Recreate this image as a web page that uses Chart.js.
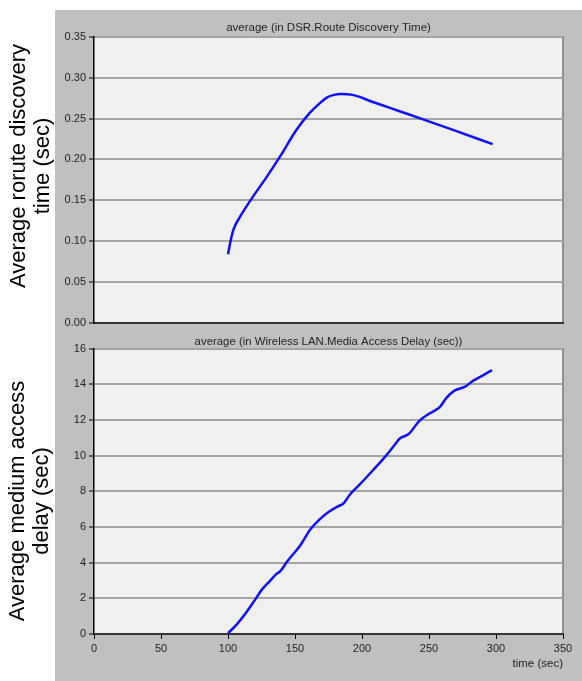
<!DOCTYPE html>
<html>
<head>
<meta charset="utf-8">
<script src="https://cdn.jsdelivr.net/npm/chart.js@4.4.1/dist/chart.umd.min.js"></script>
<style>
  html, body { margin: 0; padding: 0; background: #ffffff; }
  #wrap { position: relative; width: 582px; height: 681px; overflow: hidden; }
  canvas { position: absolute; left: 0; }
  #routeChart { top: 0; }
  #delayChart { top: 335px; }
</style>
</head>
<body>
<div id="wrap">
  <canvas id="routeChart" width="582" height="335"></canvas>
  <canvas id="delayChart" width="582" height="346"></canvas>
</div>
<script>
// Simulation time (sec) and DSR route discovery time average (sec)
const discoveryTimes  = [100, 102, 104, 109, 118, 129, 139, 151, 161, 168, 174, 179, 184, 193, 200, 206, 213, 228, 243, 270, 297.5];
const discoveryValues = [0.084, 0.101, 0.114, 0.130, 0.153, 0.179, 0.204, 0.236, 0.257, 0.268, 0.276, 0.279, 0.280, 0.279, 0.2755, 0.2715, 0.2675, 0.259, 0.2505, 0.235, 0.2187];

// Simulation time (sec) and Wireless LAN media access delay average (sec)
const delayTimes  = [100, 105, 114, 120, 125, 131, 136, 139, 144, 154, 161, 169, 175, 182, 186, 191, 198, 208, 217, 225, 228, 235, 243, 250, 258, 263, 269, 277, 283, 290, 297];
const delayValues = [0.05, 0.41, 1.25, 1.90, 2.46, 2.95, 3.36, 3.52, 4.05, 4.98, 5.82, 6.47, 6.84, 7.16, 7.31, 7.82, 8.36, 9.17, 9.92, 10.67, 10.95, 11.23, 11.97, 12.35, 12.72, 13.24, 13.65, 13.87, 14.21, 14.49, 14.80];

// Tick labels
const timeTicks      = [0, 50, 100, 150, 200, 250, 300, 350];
const discoveryTicks = [0, 0.05, 0.10, 0.15, 0.20, 0.25, 0.30, 0.35];
const delayTicks     = [0, 2, 4, 6, 8, 10, 12, 14, 16];

const FONT = "'Liberation Sans', Arial, Helvetica, sans-serif";
const TICK_COLOR = '#222222';

// Grey panel behind both plots, light plot background and its outline
const panelPlugin = {
  id: 'panel',
  beforeDraw(chart, args, opts) {
    const { ctx, chartArea: a, width, height } = chart;
    ctx.save();
    ctx.fillStyle = '#c0c0c0';
    ctx.fillRect(opts.left, opts.top, width - opts.left, height - opts.top);
    ctx.fillStyle = '#f0f0f0';
    ctx.fillRect(a.left, a.top, a.right - a.left, a.bottom - a.top);
    ctx.strokeStyle = '#7a7a7a';
    ctx.lineWidth = 1.5;
    ctx.beginPath();
    ctx.moveTo(a.left, a.top);
    ctx.lineTo(a.right, a.top);
    ctx.lineTo(a.right, a.bottom);
    ctx.stroke();
    ctx.restore();
  }
};

// Rotated multi-line quantity label to the left of the panel
const sideLabelPlugin = {
  id: 'sideLabel',
  afterDraw(chart, args, opts) {
    const { ctx } = chart;
    ctx.save();
    ctx.font = opts.size + 'px ' + FONT;
    ctx.fillStyle = '#000000';
    ctx.textAlign = 'center';
    ctx.textBaseline = 'middle';
    opts.lines.forEach((line, i) => {
      ctx.save();
      ctx.translate(opts.x + i * opts.lineGap, opts.y);
      ctx.rotate(-Math.PI / 2);
      ctx.fillText(line, 0, 0);
      ctx.restore();
    });
    ctx.restore();
  }
};

function setTicks(values) {
  return scale => { scale.ticks = values.map(v => ({ value: v })); };
}

function seriesPoints(xs, ys) {
  return xs.map((x, i) => ({ x: x, y: ys[i] }));
}

function lineDataset(points) {
  return {
    data: points,
    borderColor: '#1010ff',
    borderWidth: 2.5,
    pointRadius: 0,
    fill: false,
    cubicInterpolationMode: 'monotone'
  };
}

function titleOptions(text, size, bottomPad) {
  return {
    display: true,
    text: text,
    fullSize: false,
    color: TICK_COLOR,
    font: { family: FONT, size: size, weight: 'normal', lineHeight: 1.2 },
    padding: { top: 0, bottom: bottomPad }
  };
}

// Upper plot: route discovery time
new Chart(document.getElementById('routeChart'), {
  type: 'line',
  data: { datasets: [lineDataset(seriesPoints(discoveryTimes, discoveryValues))] },
  options: {
    responsive: false,
    animation: false,
    devicePixelRatio: 1,
    layout: { padding: { left: 0, right: 19, top: 21, bottom: 0 } },
    plugins: {
      legend: { display: false },
      tooltip: { enabled: false },
      title: titleOptions('average (in DSR.Route Discovery Time)', 11.5, 2),
      panel: { left: 55, top: 10 },
      sideLabel: { lines: ['Average rorute discovery', 'time (sec)'], x: 19, y: 166, lineGap: 24, size: 22 }
    },
    scales: {
      x: {
        type: 'linear', min: 0, max: 350,
        afterBuildTicks: setTicks(timeTicks),
        afterFit: s => { s.height = 12; },
        ticks: { display: false },
        grid: { display: false },
        border: { display: true, color: '#333333', width: 2 }
      },
      y: {
        type: 'linear', min: 0, max: 0.35,
        afterBuildTicks: setTicks(discoveryTicks),
        afterFit: s => { s.width = 94; },
        ticks: {
          color: TICK_COLOR, padding: 3,
          font: { family: FONT, size: 11 },
          callback: v => v.toFixed(2)
        },
        grid: { color: '#a4a4a4', lineWidth: 2, tickLength: 5, tickColor: '#000000', tickWidth: 1 },
        border: { display: true, color: '#000000', width: 1.5 }
      }
    }
  },
  plugins: [panelPlugin, sideLabelPlugin]
});

// Lower plot: media access delay
new Chart(document.getElementById('delayChart'), {
  type: 'line',
  data: { datasets: [lineDataset(seriesPoints(delayTimes, delayValues))] },
  options: {
    responsive: false,
    animation: false,
    devicePixelRatio: 1,
    layout: { padding: { left: 0, right: 19, top: 0, bottom: 0 } },
    plugins: {
      legend: { display: false },
      tooltip: { enabled: false },
      title: titleOptions('average (in Wireless LAN.Media Access Delay (sec))', 11.4, 0),
      panel: { left: 55, top: 0 },
      sideLabel: { lines: ['Average medium access', 'delay (sec)'], x: 18, y: 166, lineGap: 24, size: 22 }
    },
    scales: {
      x: {
        type: 'linear', min: 0, max: 350,
        afterBuildTicks: setTicks(timeTicks),
        afterFit: s => { s.height = 47; },
        ticks: { color: TICK_COLOR, padding: 3, font: { family: FONT, size: 11 } },
        grid: { drawOnChartArea: false, drawTicks: true, tickLength: 5, tickColor: '#000000', tickWidth: 1 },
        border: { display: true, color: '#333333', width: 2 },
        title: {
          display: true, text: 'time (sec)', align: 'end',
          color: TICK_COLOR, font: { family: FONT, size: 11.5 },
          padding: { top: 0, bottom: 10 }
        }
      },
      y: {
        type: 'linear', min: 0, max: 16,
        afterBuildTicks: setTicks(delayTicks),
        afterFit: s => { s.width = 94; },
        ticks: { color: TICK_COLOR, padding: 3, font: { family: FONT, size: 11 } },
        grid: { color: '#a4a4a4', lineWidth: 2, tickLength: 5, tickColor: '#000000', tickWidth: 1 },
        border: { display: true, color: '#000000', width: 1.5 }
      }
    }
  },
  plugins: [panelPlugin, sideLabelPlugin]
});
</script>
</body>
</html>
